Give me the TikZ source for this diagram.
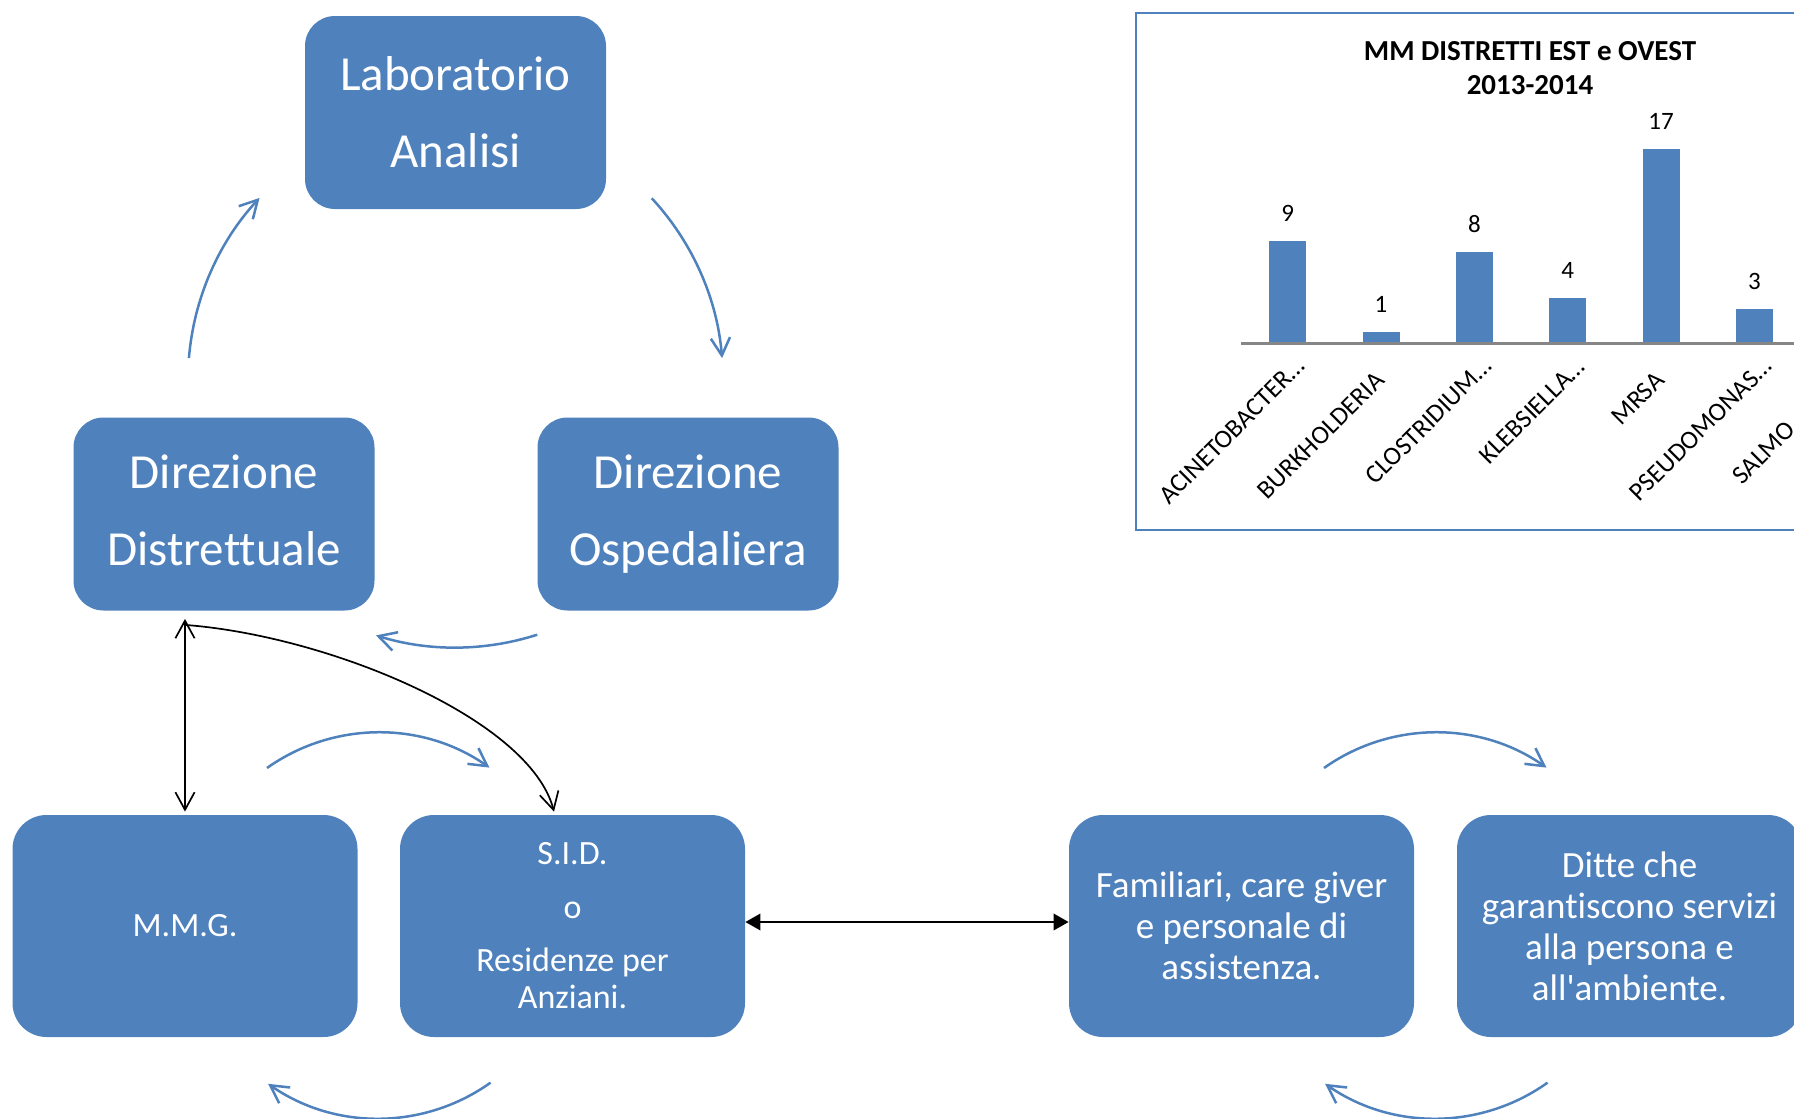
\documentclass[tikz,border=0pt]{standalone}
\usepackage{fontspec}
\setmainfont{Carlito}[Ligatures={TeX,NoCommon}]
\usetikzlibrary{arrows.meta,calc}
\definecolor{ofblue}{RGB}{79,129,189}
\definecolor{axisgray}{RGB}{134,134,134}
\begin{document}
\begin{tikzpicture}[x=0.5pt,y=-0.5pt,
  >={Straight Barb[length=8.8pt,width=9.6pt]},
  upbox/.style={fill=ofblue, rounded corners=15pt, text=white, align=center, inner sep=0pt,
    minimum width=150.5pt, minimum height=96.5pt, font=\fontsize{24.5}{38.5}\selectfont},
  lowbox/.style={fill=ofblue, rounded corners=17pt, text=white, align=center, inner sep=0pt,
    minimum width=172.5pt, minimum height=111pt},
  leftfont/.style={font=\fontsize{17}{18.5}\selectfont},
  rightfont/.style={font=\fontsize{18.5}{20.5}\selectfont},
  cyc/.style={draw=ofblue, line width=1.25pt, ->},
  blk/.style={draw=black, line width=0.85pt},
  bar/.style={fill=ofblue},
  catlab/.style={rotate=45, inner sep=0pt, font=\fontsize{13}{15}\selectfont},
  vallab/.style={inner sep=0pt, font=\fontsize{12.5}{15}\selectfont},
  ttl/.style={inner sep=0pt, font=\bfseries\fontsize{14.5}{17}\selectfont}
]
\useasboundingbox (0,0) rectangle (1794,1119);
\clip (0,0) rectangle (1794,1119);

% ---- boxes ----
\node[upbox] (lab) at (455.5,112.5) {Laboratorio\\Analisi};
\node[upbox] (dd) at (224,514) {Direzione\\Distrettuale\vphantom{p}};
\node[upbox] (do) at (688,514) {Direzione\\Ospedaliera};

\node[lowbox, leftfont] (mmg) at (185,926) {M.M.G.};
\node[lowbox, leftfont] (sid) at (572.5,926) {S.I.D.\\[8.5pt]o\\[8pt]Residenze per\\Anziani.};
\node[lowbox, rightfont] (fam) at (1241.5,926) {Familiari, care giver\\e personale di\\assistenza.};
\node[lowbox, rightfont] (ditte) at (1629.5,926) {Ditte che\\garantiscono servizi\\alla persona e\\all\textquotesingle ambiente.};

% ---- cycle arrows (top) ----
\coordinate (c1) at (455.5,380);
\coordinate (a1) at ($(c1)+(175.3:133.75pt)$);
\coordinate (a2) at ($(c1)+(42.8:133.75pt)$);
\coordinate (a3) at ($(c1)+(-72.2:133.75pt)$);
\draw[cyc] (a1) arc[start angle=175.3, end angle=137.1, radius=133.75pt];
\draw[cyc] (a2) arc[start angle=42.8, end angle=4.7, radius=133.75pt];
\draw[cyc] (a3) arc[start angle=-72.2, end angle=-107.3, radius=133.75pt];

% ---- cycle arrows (bottom left) ----
\coordinate (c2) at (378.5,925.5);
\coordinate (b1) at ($(c2)+(125.3:96.5pt)$);
\coordinate (b2) at ($(c2)+(-54.5:96.5pt)$);
\draw[cyc] (b1) arc[start angle=125.3, end angle=54.9, radius=96.5pt];
\draw[cyc] (b2) arc[start angle=-54.5, end angle=-124.9, radius=96.5pt];

% ---- cycle arrows (bottom right) ----
\coordinate (c3) at (1435.5,925.5);
\coordinate (d1) at ($(c3)+(125.3:96.5pt)$);
\coordinate (d2) at ($(c3)+(-54.5:96.5pt)$);
\draw[cyc] (d1) arc[start angle=125.3, end angle=54.9, radius=96.5pt];
\draw[cyc] (d2) arc[start angle=-54.5, end angle=-124.9, radius=96.5pt];

% ---- black connectors ----
\coordinate (ddtop) at ($(dd.south -| mmg.north)+(0,8)$);
\coordinate (ddcurve) at ($(dd.south -| mmg.north)+(0,14)$);
\draw[blk, <->] (ddtop) -- ($(mmg.north)+(0,-3)$);
\draw[blk, ->] (ddcurve) .. controls +(145,11) and +(-24,-92) .. ($(sid.north)+(-18.5,-3)$);
\draw[blk, {Triangle[length=7.5pt,width=8.3pt]}-{Triangle[length=7.5pt,width=8.3pt]}]
  ($(sid.east)+(0,-4)$) -- ($(fam.west)+(0,-4)$);

% ---- chart ----
\draw[ofblue, line width=0.9pt] (1136,13) rectangle (1900,530);
\node[ttl, anchor=base] (t1) at (1530,60) {MM DISTRETTI EST e OVEST};
\node[ttl, anchor=base] (t2) at (1530,94.5) {2013-2014};
\foreach \i/\v in {0/9,1/1,2/8,3/4,4/17,5/3}{
  \fill[bar] (1269.2+93.35*\i,343.5) rectangle (1306.2+93.35*\i,343.5-11.44*\v);
  \node[vallab, anchor=base] at (1287.7+93.35*\i,343.5-11.44*\v-19.3) {\v};
}
\draw[axisgray, line width=1.2pt] (1241,343.5) -- (1900,343.5);
\node[catlab, anchor=base east] at (1287.7+19,368) {ACINETOBACTER…};
\node[catlab, anchor=base east] at (1381.05+5,382) {BURKHOLDERIA};
\node[catlab, anchor=base east] at (1474.4+19,368) {CLOSTRIDIUM…};
\node[catlab, anchor=base east] at (1567.75+19,368) {KLEBSIELLA…};
\node[catlab, anchor=base east] at (1661.1+5,382) {MRSA};
\node[catlab, anchor=base east] at (1754.45+19,368) {PSEUDOMONAS…};
\node[catlab, anchor=base west] at (1742,486) {SALMO};
\end{tikzpicture}
\end{document}
